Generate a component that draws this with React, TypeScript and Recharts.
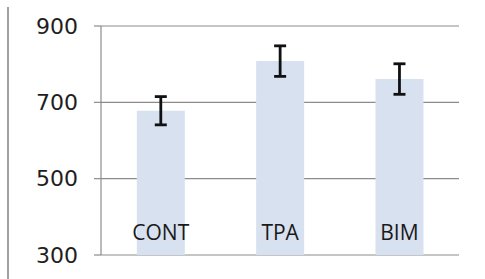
import { Bar, BarChart, CartesianGrid, ErrorBar, LabelList, XAxis, YAxis } from "recharts";

const groups = ["CONT", "TPA", "BIM"];
const means = [678, 808, 761];
const errors = [37, 40, 40];
const yTicks = [300, 500, 700, 900];

const rows = groups.map((name, i) => ({ name, mean: means[i], err: errors[i] }));

export default function App() {
  return (
    <div style={{ position: "absolute", left: 0, top: 0, width: 485, height: 279, background: "#fff" }}>
      <div
        style={{
          position: "absolute",
          left: 7,
          top: 7,
          width: 2,
          height: 272,
          background: "#a0a0a0",
        }}
      />
      <BarChart
        width={485}
        height={279}
        data={rows}
        margin={{ top: 26, right: 26, bottom: 24, left: 0 }}
        barCategoryGap="30%"
      >
        <CartesianGrid vertical={false} stroke="#8c8c8c" strokeWidth={1.2} />
        <XAxis dataKey="name" hide />
        <YAxis
          width={101}
          domain={[300, 900]}
          ticks={yTicks}
          interval={0}
          tickSize={7}
          tickMargin={16}
          stroke="#8c8c8c"
          axisLine={{ stroke: "#8c8c8c", strokeWidth: 1.2 }}
          tickLine={{ stroke: "#8c8c8c", strokeWidth: 1.2 }}
          tick={{ fill: "#1e1e1e", fontSize: 22, fontFamily: "DejaVu Sans" }}
        />
        <Bar dataKey="mean" fill="#d7e1ef" isAnimationActive={false}>
          <ErrorBar dataKey="err" width={6} stroke="#111" strokeWidth={2.8} />
          <LabelList
            dataKey="name"
            position="insideBottom"
            offset={15}
            fill="#1a1a1a"
            fontSize={21}
            fontFamily="Open Sans"
          />
        </Bar>
      </BarChart>
    </div>
  );
}
